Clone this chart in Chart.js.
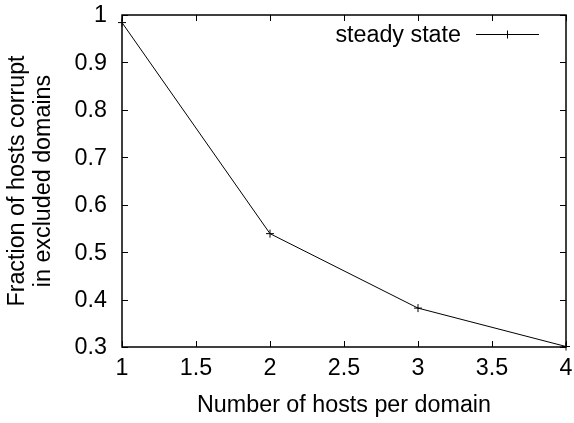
<!DOCTYPE html>
<html>
<head>
<meta charset="utf-8">
<script src="https://cdn.jsdelivr.net/npm/chart.js@4"></script>
<style>
  html, body { margin: 0; padding: 0; background: #fff; }
  #wrap { width: 574px; height: 423px; }
</style>
</head>
<body>
<div id="wrap"><canvas id="myChart" width="574" height="423"></canvas></div>
<script>
// values
const hostsPerDomain = [1, 2, 3, 4];
const steadyState = [0.984, 0.539, 0.382, 0.301];
const xTicks = [1, 1.5, 2, 2.5, 3, 3.5, 4];
const yTicks = [0.3, 0.4, 0.5, 0.6, 0.7, 0.8, 0.9, 1];
const seriesLabel = 'steady state';

const FONT = '"Liberation Sans", Arial, Helvetica, sans-serif';
const FSIZE = 23.3;

// gnuplot-like frame: inward ticks on all four sides, tick labels and the key
const gnuplotFrame = {
    id: 'gnuplotFrame',
    afterDatasetsDraw(chart) {
        const ctx = chart.ctx;
        const a = chart.chartArea;
        const xs = chart.scales.x, ys = chart.scales.y;
        const tl = 6;
        ctx.save();
        ctx.strokeStyle = '#000';
        ctx.lineWidth = 1;
        ctx.beginPath();
        xTicks.forEach(v => {
            const px = Math.round(xs.getPixelForValue(v)) + 0.5;
            ctx.moveTo(px, a.bottom); ctx.lineTo(px, a.bottom - tl);
            ctx.moveTo(px, a.top); ctx.lineTo(px, a.top + tl);
        });
        yTicks.forEach(v => {
            const py = Math.round(ys.getPixelForValue(v)) + 0.5;
            ctx.moveTo(a.left, py); ctx.lineTo(a.left + tl, py);
            ctx.moveTo(a.right, py); ctx.lineTo(a.right - tl, py);
        });
        ctx.stroke();
        ctx.lineWidth = 1.5;
        ctx.strokeRect(a.left, a.top, a.right - a.left, a.bottom - a.top);

        // tick labels
        ctx.fillStyle = '#000';
        ctx.font = FSIZE + 'px ' + FONT;
        ctx.textBaseline = 'middle';
        ctx.textAlign = 'center';
        xTicks.forEach(v => {
            ctx.fillText(String(v), xs.getPixelForValue(v), a.bottom + 22);
        });
        ctx.textAlign = 'right';
        yTicks.forEach(v => {
            ctx.fillText(String(v), a.left - 15, ys.getPixelForValue(v) + 1);
        });

        // key
        const ky = 34.5;
        ctx.textAlign = 'right';
        ctx.fillText(chart.data.datasets[0].label, 461, ky + 1);
        ctx.lineWidth = 1;
        ctx.beginPath();
        ctx.moveTo(476, ky); ctx.lineTo(539, ky);
        ctx.moveTo(507.5, ky - 4); ctx.lineTo(507.5, ky + 4);
        ctx.stroke();
        ctx.restore();
    }
};

new Chart(document.getElementById('myChart'), {
    type: 'line',
    data: {
        datasets: [{
            label: seriesLabel,
            data: hostsPerDomain.map((x, i) => ({ x: x, y: steadyState[i] })),
            borderColor: '#000',
            backgroundColor: '#000',
            borderWidth: 1,
            pointStyle: 'cross',
            pointRadius: 4,
            pointBorderWidth: 1,
            tension: 0,
            clip: false
        }]
    },
    options: {
        responsive: false,
        animation: false,
        layout: { padding: { left: 0, right: 8, top: 15, bottom: 0 } },
        plugins: {
            legend: { display: false },
            tooltip: { enabled: false }
        },
        scales: {
            x: {
                type: 'linear',
                min: 1, max: 4,
                afterBuildTicks: s => { s.ticks = xTicks.map(v => ({ value: v })); },
                afterFit: s => { s.height = 76; },
                grid: { display: false, drawTicks: false },
                border: { display: false },
                ticks: { display: false },
                title: {
                    display: true,
                    text: 'Number of hosts per domain',
                    color: '#000',
                    font: { family: FONT, size: FSIZE },
                    padding: { top: 0, bottom: 3 }
                }
            },
            y: {
                type: 'linear',
                min: 0.3, max: 1,
                afterBuildTicks: s => { s.ticks = yTicks.map(v => ({ value: v })); },
                afterFit: s => { s.width = 122; },
                grid: { display: false, drawTicks: false },
                border: { display: false },
                ticks: { display: false },
                title: {
                    display: true,
                    text: ['Fraction of hosts corrupt', 'in excluded domains'],
                    color: '#000',
                    font: { family: FONT, size: FSIZE, lineHeight: 1.1 },
                    padding: { top: 5, bottom: 0 }
                }
            }
        }
    },
    plugins: [gnuplotFrame]
});
</script>
</body>
</html>
